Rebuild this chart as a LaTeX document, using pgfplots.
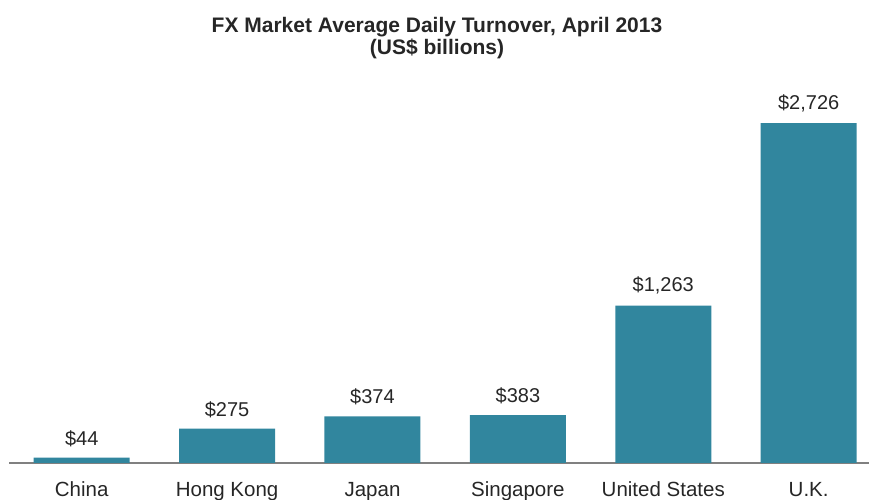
\documentclass[border=0pt]{standalone}
\usepackage{fontspec}
\setmainfont{Liberation Sans}
\usepackage{pgfplots}
\pgfplotsset{compat=1.18}
\definecolor{barc}{RGB}{49,134,158}
\begin{document}
\begin{tikzpicture}[x=1bp,y=1bp]
\path[use as bounding box] (0,0) rectangle (869,500);
\begin{axis}[
  at={(9bp,37bp)}, anchor=south west,
  scale only axis, width=860bp, height=374bp,
  xmin=-0.5, xmax=5.415, ymin=0, ymax=3000,
  axis x line=bottom, axis y line=none,
  x axis line style={draw=gray, line width=1.5bp, -},
  xtick=data,
  xticklabels={China,Hong Kong,Japan,Singapore,United States,U.K.},
  major tick length=0pt,
  xticklabel style={font=\fontsize{20.5bp}{24bp}\selectfont, text=black!85, text height=15bp, text depth=4bp, yshift=-15bp},
  ybar, bar width=96bp,
  /pgf/number format/assume math mode=true,
  nodes near coords={\$\pgfmathprintnumber[1000 sep={,}]{\pgfplotspointmeta}},
  every node near coord/.append style={font=\fontsize{20bp}{24bp}\selectfont, text=black!85, yshift=7.5bp},
  clip=false,
]
\addplot[fill=barc, draw=none] coordinates {(0,44) (1,275) (2,374) (3,383) (4,1263) (5,2726)};
\end{axis}
\node[align=center, font=\fontsize{21bp}{21.5bp}\selectfont\bfseries, text=black!85] at (437,462) {FX Market Average Daily Turnover, April 2013\\(US\$ billions)};
\end{tikzpicture}
\end{document}
